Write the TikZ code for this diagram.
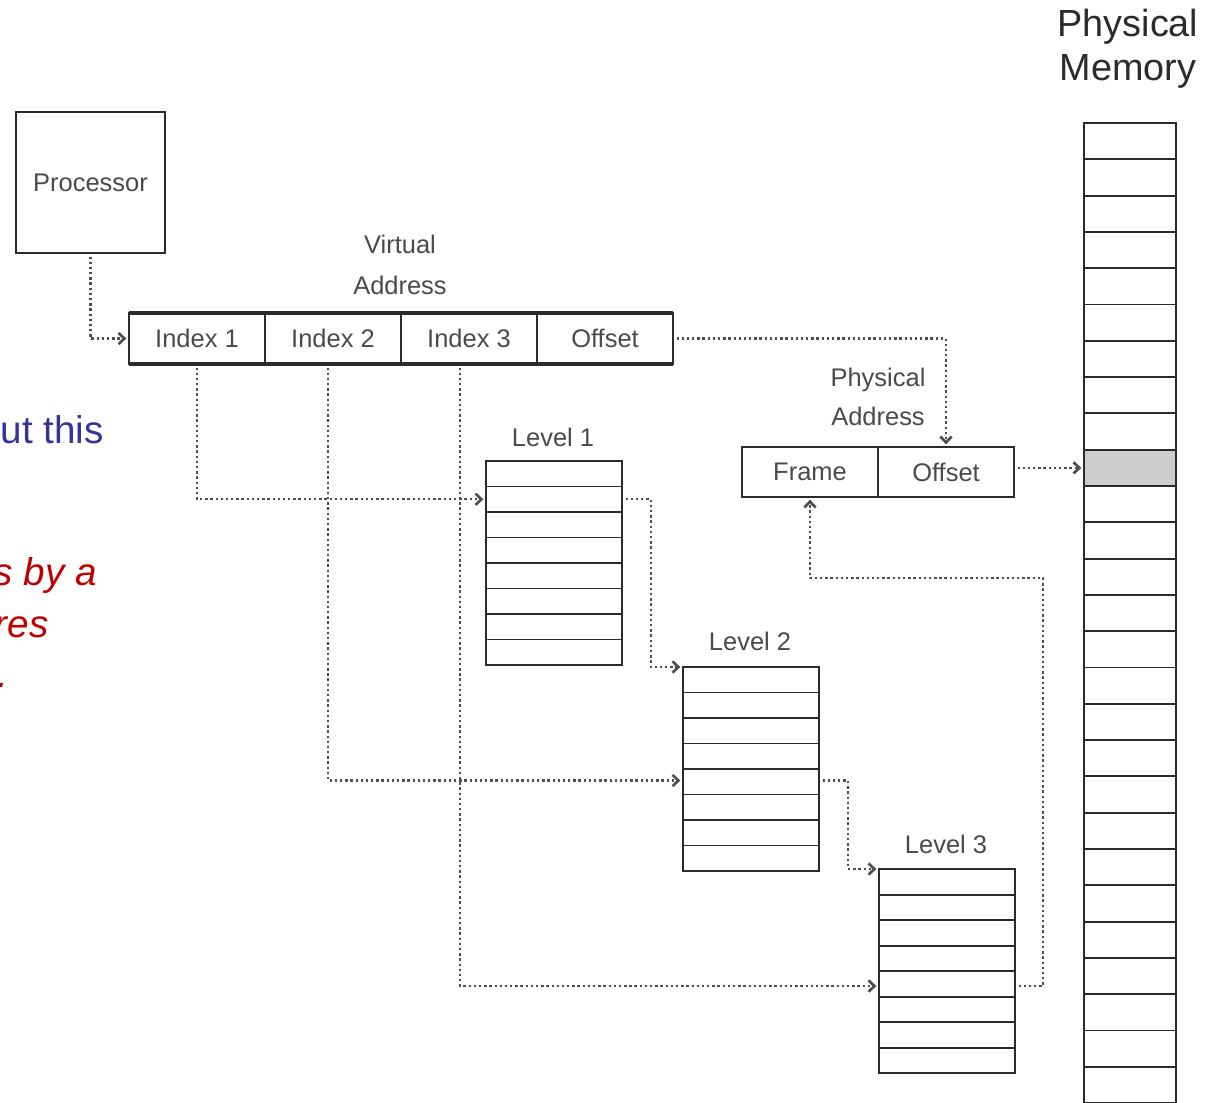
\documentclass[tikz,border=0pt]{standalone}
\usepackage{fontspec}
\setmainfont{Liberation Sans}
\newfontfamily\dfont{Liberation Sans}
\usetikzlibrary{arrows.meta,calc}
\definecolor{ink}{HTML}{2B2B2B}
\definecolor{txt}{HTML}{4A4A4A}
\definecolor{dots}{HTML}{4E4E4E}
\definecolor{slideblue}{HTML}{333399}
\definecolor{slidered}{HTML}{C00000}
\begin{document}
\begin{tikzpicture}[x=0.02cm,y=-0.02cm,
  box/.style={draw=ink,line width=1.1pt,inner sep=0pt,outer sep=0pt},
  dtext/.style={font=\dfont\fontsize{14.5}{17}\selectfont,text=txt},
  field/.style={box,dtext,minimum width=2.72cm,minimum height=1.02cm},
  pfield/.style={box,dtext,minimum width=2.72cm,minimum height=1.0cm},
  lbl/.style={dtext,inner sep=0pt},
  lvltable/.style={box,minimum width=2.72cm,minimum height=4.08cm},
  rowline/.style={draw=ink,line width=1.1pt},
  link/.style={draw=dots,line width=1.35pt,dash pattern=on 1.35pt off 1.6pt,
    shorten <=2pt,shorten >=1.5pt,
    -{Straight Barb[length=3.4pt,width=6.4pt,line width=1.5pt]}},
  frag/.style={anchor=base east,inner sep=0pt,font=\fontsize{22}{26}\selectfont},
]
\useasboundingbox (0,0) rectangle (1213,1102);
\clip (0,0) rectangle (1213,1102);

% slide text fragments
\node[frag,text=slideblue] (f1) at (104,443) {ut this};
\node[frag,text=slidered,font=\fontsize{22}{26}\selectfont\itshape] (f2) at (97,585) {s by a};
\node[frag,text=slidered,font=\fontsize{22}{26}\selectfont\itshape] (f3) at (49,637) {res};
\node[frag,text=slidered,font=\fontsize{22}{26}\selectfont\itshape] (f4) at (9,687) {.};

% processor
\node[box,dtext,minimum width=2.98cm,minimum height=2.82cm] (proc) at (90.5,182.5) {Processor};

% virtual address
\node[lbl,align=center] (valbl) at (400,265) {Virtual\\[6.4pt]Address};
\node[field] (i1) at (197,338.5) {Index 1};
\node[field] (i2) at (333,338.5) {Index 2};
\node[field] (i3) at (469,338.5) {Index 3};
\node[field] (off) at (605,338.5) {Offset};
\draw[ink,line width=2pt] (i1.north west) -- (off.north east);
\draw[ink,line width=2pt] (i1.south west) -- (off.south east);

% physical address
\node[lbl,align=center] (palbl) at (878,397) {Physical\\[5.3pt]Address};
\node[pfield] (frame) at (810,472) {Frame};
\node[pfield] (paoff) at (946,472) {Offset};

% level tables
\node[lbl] (l1lbl) at (553,437) {Level 1};
\node[lbl] (l2lbl) at (750,641) {Level 2};
\node[lbl] (l3lbl) at (946,844) {Level 3};
\node[lvltable] (L1) at (554,563) {};
\node[lvltable] (L2) at (751,769) {};
\node[lvltable] (L3) at (947,971) {};
\foreach \t in {L1,L2,L3}{
  \foreach \k in {1,...,7}{
    \draw[rowline] ($(\t.north west)+(0,25.5*\k)$) -- ($(\t.north east)+(0,25.5*\k)$);
  }
}
\coordinate (l1a) at ($(L1.north west)+(0,38.25)$);
\coordinate (l1b) at ($(L1.north east)+(0,38.25)$);
\coordinate (l2a) at ($(L2.north west)+(0,113.5)$);
\coordinate (l2b) at ($(L2.north east)+(0,113.5)$);
\coordinate (l3a) at ($(L3.north west)+(0,117)$);
\coordinate (l3b) at ($(L3.north east)+(0,117)$);

% physical memory
\node[font=\fontsize{21.5}{25}\selectfont,text=ink,align=center,inner sep=0pt] (pmlbl) at (1128,49) {Physical\\Memory};
\node[box,minimum width=1.84cm,minimum height=20cm,anchor=north] (mem) at (1130,123) {};
\foreach \k in {1,...,27}{
  \draw[rowline] ($(mem.north west)+(0,36.3*\k)$) -- ($(mem.north east)+(0,36.3*\k)$);
}
\node[box,fill=gray!40,minimum width=1.84cm,minimum height=0.726cm,anchor=north west] (memrow) at ($(mem.north west)+(0,326.7)$) {};

% connectors
\coordinate (bend) at (1043,578);
\draw[link] (proc.south) |- (i1.west);
\draw[link] (i1.south) |- (l1a);
\draw[link] ($(i2.south)+(-5,0)$) |- (l2a);
\draw[link] ($(i3.south)+(-9,0)$) |- (l3a);
\draw[link] (l1b) -- ++(29,0) |- (L2.north west);
\draw[link] (l2b) -- ++(29,0) |- (L3.north west);
\draw[link] (l3b) -| (bend) -| (frame.south);
\draw[link] (off.east) -| (paoff.north);
\draw[link] (memrow.west -| paoff.east) -- (memrow.west);
\end{tikzpicture}
\end{document}
